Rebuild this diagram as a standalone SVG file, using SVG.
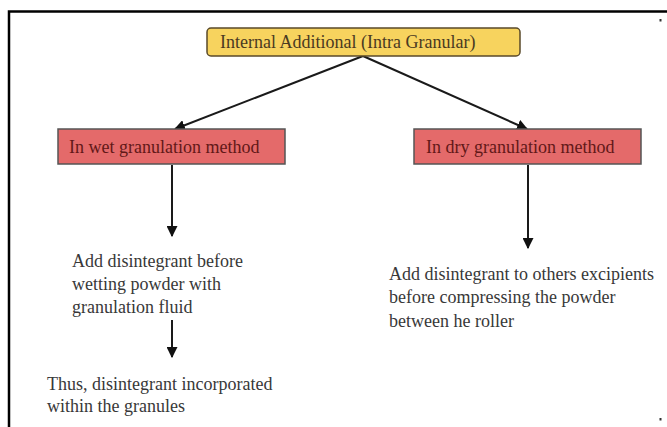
<svg xmlns="http://www.w3.org/2000/svg" width="667" height="427" viewBox="0 0 667 427">
<defs>
<style>
.t{font-family:"Liberation Serif","Times New Roman",serif;}
.box{font-size:18px;fill:#621818;}
.head{font-size:18px;fill:#4a3a22;}
.body{font-size:18px;fill:#383838;}
.ln{stroke:#1a1a1a;stroke-width:2;fill:none;marker-end:url(#ah);}
</style>
<marker id="ah" viewBox="0 0 10 10" refX="9" refY="5" markerWidth="5.5" markerHeight="5.5" orient="auto" markerUnits="strokeWidth">
<path d="M0,0 L10,5 L0,10 z" fill="#111"/>
</marker>
</defs>
<rect width="667" height="427" fill="#fff"/>
<path d="M9,427 V11.5 H667" stroke="#000" stroke-width="2.5" fill="none"/>
<rect x="659.5" y="19" width="2" height="2.5" fill="#333"/>
<rect x="659.5" y="418" width="2" height="2.5" fill="#333"/>
<g id="connectors">
<line class="ln" x1="363" y1="56" x2="175" y2="129"/>
<line class="ln" x1="363" y1="56" x2="527" y2="129"/>
<line class="ln" x1="172" y1="165" x2="172" y2="236"/>
<line class="ln" x1="528" y1="165" x2="528" y2="248"/>
<line class="ln" x1="172" y1="320" x2="172" y2="357"/>
</g>
<g id="top">
<rect x="207" y="28" width="313" height="28" rx="4" fill="#F7D35E" stroke="#5a4a2a" stroke-width="1.5"/>
<text class="t head" x="220" y="48">Internal Additional (Intra Granular)</text>
</g>
<g id="wet">
<rect x="58" y="129" width="227" height="35" fill="#E46A6A" stroke="#555" stroke-width="1.5"/>
<text class="t box" x="69" y="153">In wet granulation method</text>
</g>
<g id="dry">
<rect x="414" y="129" width="227" height="35" fill="#E46A6A" stroke="#555" stroke-width="1.5"/>
<text class="t box" x="426" y="153">In dry granulation method</text>
</g>
<g id="wet-step1">
<text class="t body" x="72" y="267">Add disintegrant before</text>
<text class="t body" x="72" y="290">wetting powder with</text>
<text class="t body" x="72" y="313">granulation fluid</text>
</g>
<g id="wet-step2">
<text class="t body" x="47" y="390">Thus, disintegrant incorporated</text>
<text class="t body" x="47" y="412">within the granules</text>
</g>
<g id="dry-step">
<text class="t body" x="389" y="280">Add disintegrant to others excipients</text>
<text class="t body" x="389" y="303">before compressing the powder</text>
<text class="t body" x="389" y="327">between he roller</text>
</g>
</svg>
